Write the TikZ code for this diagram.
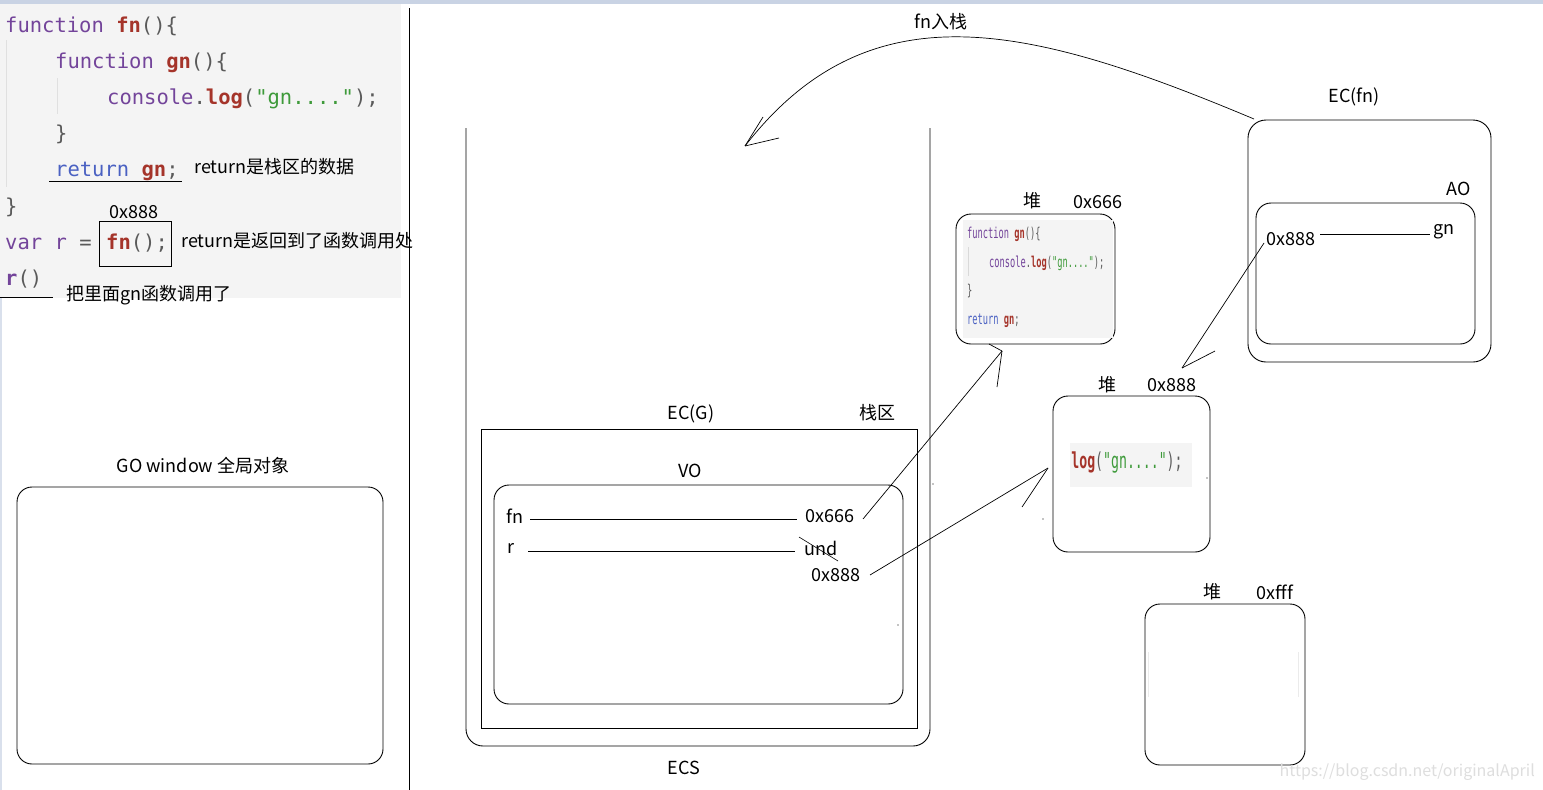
\documentclass[tikz,border=0pt]{standalone}
\usepackage{fontspec}
\usepackage{graphicx}
\setmainfont{Noto Sans CJK SC}
\newfontfamily\codefont[Ligatures=ResetAll]{DejaVu Sans Mono}
\usetikzlibrary{calc}
\definecolor{ckw}{HTML}{73449A}
\definecolor{cret}{HTML}{4A61C2}
\definecolor{cfn}{HTML}{A5342A}
\definecolor{cstr}{HTML}{3E9A3A}
\definecolor{cpun}{HTML}{5A5A5A}
\definecolor{codebg}{HTML}{F4F4F4}
\definecolor{topbar}{HTML}{C9D3E4}
\newcommand\jkw[1]{\textcolor{ckw}{#1}}
\newcommand\jret[1]{\textcolor{cret}{#1}}
\newcommand\jfn[1]{\textcolor{cfn}{\bfseries #1}}
\newcommand\jstr[1]{\textcolor{cstr}{#1}}
\newcommand\jpun[1]{\textcolor{cpun}{#1}}
\newcommand\jdq{\symbol{34}}
\tikzset{
  lbl/.style={inner sep=0pt, font=\fontsize{18}{20}\selectfont},
  code/.style={inner sep=0pt, anchor=base west, font=\codefont\fontsize{20.5}{22}\selectfont},
  mini/.style={inner sep=0pt, anchor=base west},
  rbox/.style={draw, line width=0.9pt, rounded corners=15pt},
  sbox/.style={draw, line width=0.9pt},
  conn/.style={draw, line width=0.7pt},
}
\begin{document}
\begin{tikzpicture}[x=1pt,y=-1pt]
\useasboundingbox (0,0) rectangle (1543,790);
\fill[white] (0,0) rectangle (1543,790);
% top bar and left strip
\fill[topbar] (0,0) rectangle (1543,4);
\fill[topbar!70] (0,298) rectangle (2,790);
% code panel
\fill[codebg] (0,4) rectangle (401,298);
\draw[black!12, line width=1pt] (6,40) -- (6,187);
\draw[black!12, line width=1pt] (57,78) -- (57,114);
\node[code] (l1) at (5,32) {\jkw{function} \jfn{fn}\jpun{()\{}};
\node[code] (l2) at (55,68) {\jkw{function} \jfn{gn}\jpun{()\{}};
\node[code] (l3) at (107,104) {\jkw{console}\jpun{.}\jfn{log}\jpun{(}\jstr{\jdq gn....\jdq}\jpun{);}};
\node[code] (l4) at (55,140) {\jpun{\}}};
\node[code] (l5) at (55,176) {\jret{return} \jfn{gn}\jpun{;}};
\coordinate (u1a) at (49,181);
\coordinate (u1b) at (182,181);
\draw[line width=0.9pt] (u1a) -- (u1b);
\node[lbl, anchor=west] (t1) at (194,167) {return是栈区的数据};
\node[code] (l6) at (5,213) {\jpun{\}}};
\node[code] (l7) at (5,249) {\jkw{var} \jkw{r} \jpun{=}};
\node[draw, line width=0.9pt, inner sep=0pt, minimum width=72pt, minimum height=45pt, anchor=north west] (callbox) at (99,221) {};
\node[code] (l7b) at (106,249) {\jfn{fn}\jpun{();}};
\node[lbl] (addr1) at (134,212) {0x888};
\node[lbl, anchor=west] (t2) at (181,241) {return是返回到了函数调用处};
\node[code] (l8) at (5,285) {\textcolor{ckw}{\bfseries r}\jpun{()}};
\coordinate (u2a) at (0,297);
\coordinate (u2b) at (53,297);
\draw[line width=0.9pt] (u2a) -- (u2b);
\node[lbl, anchor=west] (t3) at (66,295) {把里面gn函数调用了};
% divider
\draw[line width=0.9pt] (409,8) -- (409,790);
% GO window
\node[lbl] (golbl) at (203,466) {GO window 全局对象};
\draw[rbox] (17,487) rectangle (383,764);
% ECS
\draw[line width=0.9pt, rounded corners=17pt] (466,128) -- (466,746) -- (930,746) -- (930,128);
\node[lbl] (ecslbl) at (684,768) {ECS};
% EC(G)
\node[lbl] (ecglbl) at (691,414) {EC(G)};
\node[lbl] (zhan) at (877,413) {栈区};
\draw[sbox] (481,429) rectangle (917,728);
% VO
\node[lbl] (volbl) at (690,471) {VO};
\draw[rbox] (494,485) rectangle (903,704);
\node[lbl] (vfn) at (515,516) {fn};
\node[lbl] (v666) at (830,516) {0x666};
\node[lbl] (vr) at (511,548) {r};
\node[lbl] (vund) at (821,548) {und};
\node[lbl] (v888) at (836,575) {0x888};
\draw[conn] (530,519) -- (797,519);
\draw[conn] (528,551) -- (795,551);
\draw[line width=0.6pt] (799,537) -- (838,561);
% heap 0x666
\node[lbl] (h1a) at (1032,201) {堆};
\node[lbl] (h1b) at (1098,202) {0x666};
\draw[rbox] (956,214) rectangle (1115,344);
\fill[codebg] (963,220) rectangle (1113,338);
\draw[black!15, line width=0.8pt] (968,247) -- (968,276);
\node[mini] (m1) at (967,238) {\scalebox{0.58}[1]{\codefont\fontsize{15}{16}\selectfont\jkw{function} \jfn{gn}\jpun{()\{}}};
\node[mini] (m2) at (989,267) {\scalebox{0.58}[1]{\codefont\fontsize{15}{16}\selectfont\jkw{console}\jpun{.}\jfn{log}\jpun{(}\jstr{\jdq gn....\jdq}\jpun{);}}};
\node[mini] (m3) at (967,295) {\scalebox{0.58}[1]{\codefont\fontsize{15}{16}\selectfont\jpun{\}}}};
\node[mini] (m4) at (967,324) {\scalebox{0.58}[1]{\codefont\fontsize{15}{16}\selectfont\jret{return} \jfn{gn}\jpun{;}}};
% heap 0x888
\node[lbl] (h2a) at (1107,385) {堆};
\node[lbl] (h2b) at (1172,385) {0x888};
\draw[rbox] (1053,396) rectangle (1210,552);
\fill[codebg] (1070,443) rectangle (1192,487);
\node[inner sep=0pt] (mlog) at (1127,463) {\scalebox{0.6}[1]{\codefont\fontsize{22}{24}\selectfont\jfn{log}\jpun{(}\jstr{\jdq gn....\jdq}\jpun{);}}};
% heap 0xfff
\node[lbl] (h3a) at (1212,592) {堆};
\node[lbl] (h3b) at (1275,592) {0xfff};
\draw[rbox] (1145,604) rectangle (1305,765);
\draw[black!8, line width=0.8pt] (1148,652) -- (1148,697);
\draw[black!8, line width=0.8pt] (1298,652) -- (1298,697);
% EC(fn)
\node[lbl] (ecfnlbl) at (1354,97) {EC(fn)};
\draw[line width=0.9pt, rounded corners=18pt] (1248,120) rectangle (1491,362);
\node[lbl] (aolbl) at (1459,189) {AO};
\draw[rbox] (1256,203) rectangle (1475,344);
\node[lbl] (a888) at (1291,239) {0x888};
\node[lbl] (agn) at (1444,232) {gn};
\draw[conn] (1320,234) -- (1430,234);
% curved arrow fn入栈
\node[lbl] (pushlbl) at (941,22) {fn入栈};
\coordinate (cstart) at (1254,119);
\coordinate (ctip) at (745,146);
\draw[conn] (cstart) .. controls (1030,25) and (870,-15) .. (ctip);
\draw[conn] (ctip) -- (763,117);
\draw[conn] (ctip) -- (779,138);
% arrow 0x666 -> heap 0x666
\coordinate (s1) at (863,519);
\coordinate (tip1) at (1002,351);
\draw[conn] (s1) -- (tip1);
\draw[conn] (tip1) -- (997,387);
\draw[conn] (tip1) -- (989,344);
% arrow 0x888 -> heap 0x888
\coordinate (s2) at (870,575);
\coordinate (tip2) at (1048,468);
\draw[conn] (s2) -- (tip2);
\draw[conn] (tip2) -- (1022,507);
% arrow AO 0x888 -> heap 0x888
\coordinate (s3) at (1264,243);
\coordinate (tip3) at (1182,368);
\draw[conn] (s3) -- (tip3);
\draw[conn] (tip3) -- (1215,351);
% stray dots
\fill (933,484) circle (0.7pt);
\fill (1043,519) circle (0.7pt);
\fill (898,625) circle (0.6pt);
\fill (1207,478) circle (0.6pt);
% watermark
\node[inner sep=0pt, text=black!13, font=\fontsize{16}{18}\selectfont, anchor=east] (wm) at (1535,772) {https://blog.csdn.net/originalApril};
\end{tikzpicture}
\end{document}
